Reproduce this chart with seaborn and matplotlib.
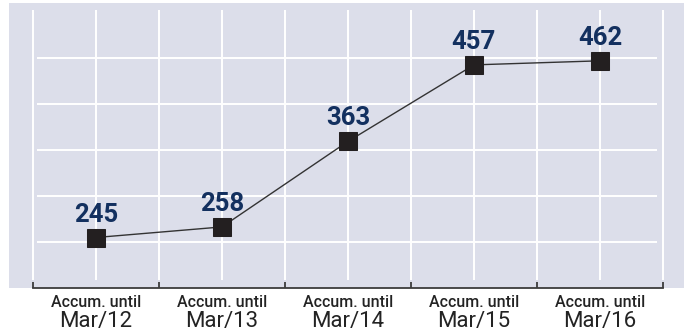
import matplotlib
matplotlib.use("Agg")
import matplotlib.pyplot as plt
import matplotlib.transforms as mtransforms
from matplotlib import font_manager
import numpy as np
import pandas as pd
import seaborn as sns

# Data
periods = ["Mar/12", "Mar/13", "Mar/14", "Mar/15", "Mar/16"]
prefix = "Accum. until"
values = [245, 258, 363, 457, 462]
grid_values = [239.5, 296.0, 352.5, 408.9, 465.4]

df = pd.DataFrame({"period": periods, "value": values})
df["pos"] = np.arange(len(periods))

sns.set_theme(style="white")

available = {f.name for f in font_manager.fontManager.ttflist}
label_font = next((f for f in ["Liberation Sans Narrow", "DejaVu Sans Condensed",
                               "Roboto", "DejaVu Sans"] if f in available), "DejaVu Sans")
plt.rcParams["font.family"] = [label_font, "DejaVu Sans"]

BG = "#dcdeea"
NAVY = "#13305f"
TEXT = "#232323"

fig = plt.figure(figsize=(6.84, 3.32), dpi=100)
fig.patch.set_facecolor("white")
ax = fig.add_axes([9 / 684, 44 / 332, 675 / 684, 285 / 332])
ax.set_facecolor(BG)

n = len(periods)
ax.set_xlim(-0.690, 4.667)
ax.set_ylim(183.0, 533.0)

# grid: vertical lines at category centers and boundaries
vx = np.arange(-0.5, n - 0.5 + 0.01, 0.5)
ax.vlines(vx, 192.5, 524.4, colors="white", linewidth=1.4, zorder=1)
ax.hlines(grid_values, -0.468, 4.452, colors="white", linewidth=1.4, zorder=1)

sns.lineplot(data=df, x="pos", y="value", ax=ax, color="#333333", linewidth=1.0,
             marker="s", markersize=12.5, markerfacecolor="#231f20",
             markeredgecolor="#231f20", zorder=3)

for x, v in zip(df["pos"], df["value"]):
    ax.annotate(f"{v}", (x, v), xytext=(0, 11.5), textcoords="offset points",
                ha="center", va="baseline", fontsize=18.5, fontweight="bold",
                color=NAVY, zorder=4)

for s in ["top", "left", "right"]:
    ax.spines[s].set_visible(False)
ax.spines["bottom"].set_bounds(-0.5, n - 0.5)
ax.spines["bottom"].set_color("#3c3c3c")
ax.spines["bottom"].set_linewidth(1.3)

ax.set_xticks(np.arange(-0.5, n - 0.5 + 0.01, 1.0))
ax.set_xticklabels([])
ax.tick_params(axis="x", direction="in", length=4, width=1.3, color="#3c3c3c", bottom=True)
ax.set_yticks([])
ax.set_xlabel("")
ax.set_ylabel("")

trans = mtransforms.blended_transform_factory(ax.transData, ax.transAxes)
for x, p in zip(df["pos"], df["period"]):
    ax.text(x, -0.0656, prefix, transform=trans, ha="center", va="baseline",
            fontsize=11.5, fontweight="medium", color=TEXT)
    ax.text(x, -0.1358, p, transform=trans, ha="center", va="baseline",
            fontsize=16, color=TEXT)

fig.savefig("out.png", dpi=100, facecolor="white")
